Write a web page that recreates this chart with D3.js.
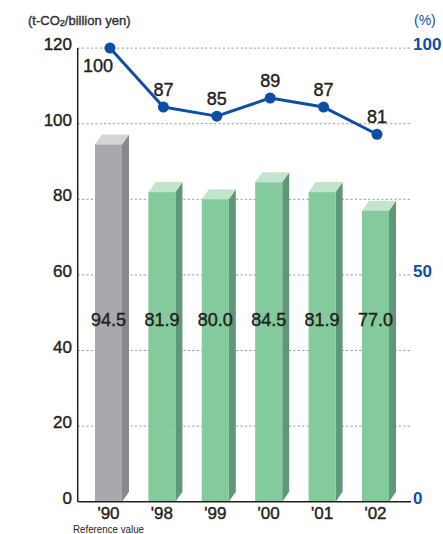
<!DOCTYPE html>
<html>
<head>
<meta charset="utf-8">
<script src="https://cdn.jsdelivr.net/npm/d3@7"></script>
<style>
  html, body { margin: 0; padding: 0; background: #fff; }
  svg { display: block; font-family: "Liberation Sans", Arial, sans-serif; }
  .heavy { stroke: currentColor; stroke-width: 0.4px; paint-order: stroke; }
</style>
</head>
<body>
<svg id="chart" width="443" height="534"></svg>
<script>
// CO2 emissions per unit of sales (t-CO2/billion yen) and index vs. 1990 (%)
const years = ["'90", "'98", "'99", "'00", "'01", "'02"];
const intensity = [94.5, 81.9, 80.0, 84.5, 81.9, 77.0];
const indexPct = [100, 87, 85, 89, 87, 81];
const leftTicks = [0, 20, 40, 60, 80, 100, 120];
const rightTicks = [0, 50, 100];

const svg = d3.select("#chart");

const y = d3.scaleLinear().domain([0, 120]).range([501.7, 48.1]);
const yPct = d3.scaleLinear().domain([0, 100]).range([501.7, 48.1]);
const x = d3.scaleBand().domain(years).range([81.8, 402.2]).paddingInner(0.494).paddingOuter(0.247);

const axisLeftX = 77.7, axisRightX = 411;
const depthX = 7, depthY = 10;
const blue = "#0d4ea6";
const ink = "#231f20";

// dashed gridlines
svg.append("g")
  .selectAll("line")
  .data(leftTicks.filter(d => d > 0))
  .join("line")
  .attr("x1", axisLeftX).attr("x2", axisRightX)
  .attr("y1", d => y(d)).attr("y2", d => y(d))
  .attr("stroke", "#9a9a9a").attr("stroke-width", 1)
  .attr("stroke-dasharray", "2.2,2.2");

// 3D bars
const palette = i => i === 0
  ? { front: "#a8a9ac", side: "#87888b", top: "#d3d4d6" }
  : { front: "#83ca9c", side: "#5f9877", top: "#c3e5cd" };

const bars = svg.append("g").selectAll("g")
  .data(intensity.map((v, i) => ({ v, i, yr: years[i] })))
  .join("g");

bars.append("polygon")
  .attr("fill", d => palette(d.i).side)
  .attr("points", d => {
    const x1 = x(d.yr) + x.bandwidth(), yt = y(d.v), y0 = y(0);
    return [[x1, yt], [x1 + depthX, yt - depthY], [x1 + depthX, y0 - depthY], [x1, y0]].join(" ");
  });
bars.append("polygon")
  .attr("fill", d => palette(d.i).top)
  .attr("points", d => {
    const x0 = x(d.yr), x1 = x0 + x.bandwidth(), yt = y(d.v);
    return [[x0, yt], [x0 + depthX, yt - depthY], [x1 + depthX, yt - depthY], [x1, yt]].join(" ");
  });
bars.append("rect")
  .attr("fill", d => palette(d.i).front)
  .attr("x", d => x(d.yr))
  .attr("y", d => y(d.v))
  .attr("width", x.bandwidth())
  .attr("height", d => y(0) - y(d.v));

// bar value labels
bars.append("text")
  .attr("class", "heavy")
  .attr("x", d => x(d.yr) + x.bandwidth() / 2)
  .attr("y", 325.5)
  .attr("text-anchor", "middle")
  .attr("font-size", 18)
  .attr("fill", ink).attr("color", ink)
  .text(d => d.v.toFixed(1));

// axes lines
svg.append("line")
  .attr("x1", axisLeftX).attr("x2", axisLeftX)
  .attr("y1", y(120)).attr("y2", y(0))
  .attr("stroke", ink).attr("stroke-width", 1.5);
svg.append("line")
  .attr("x1", axisLeftX).attr("x2", axisRightX)
  .attr("y1", y(0)).attr("y2", y(0))
  .attr("stroke", ink).attr("stroke-width", 1.5);

// left tick labels
svg.append("g").selectAll("text")
  .data(leftTicks)
  .join("text")
  .attr("class", "heavy")
  .attr("x", 72)
  .attr("y", d => y(d) + 2)
  .attr("text-anchor", "end")
  .attr("font-size", 17)
  .attr("fill", ink).attr("color", ink)
  .text(d => d);

// right tick labels
svg.append("g").selectAll("text")
  .data(rightTicks)
  .join("text")
  .attr("x", 413)
  .attr("y", d => yPct(d) + 2)
  .attr("font-size", 17)
  .attr("font-weight", "bold")
  .attr("fill", blue)
  .text(d => d);

// unit labels
const unit = svg.append("text")
  .attr("class", "heavy")
  .attr("x", 28).attr("y", 25)
  .attr("font-size", 13)
  .attr("fill", "#333").attr("color", "#333");
unit.append("tspan").text("(t-CO");
unit.append("tspan").attr("font-size", 9).attr("dy", 1).text("2");
unit.append("tspan").attr("dy", -1).text("/billion yen)");

svg.append("text")
  .attr("x", 414).attr("y", 25)
  .attr("font-size", 14)
  .attr("fill", blue)
  .text("(%)");

// x labels
svg.append("g").selectAll("text")
  .data(years)
  .join("text")
  .attr("class", "heavy")
  .attr("x", d => x(d) + x.bandwidth() / 2)
  .attr("y", 518.5)
  .attr("text-anchor", "middle")
  .attr("font-size", 17)
  .attr("fill", ink).attr("color", ink)
  .text(d => d);

svg.append("text")
  .attr("x", x(years[0]) + x.bandwidth() / 2)
  .attr("y", 533)
  .attr("text-anchor", "middle")
  .attr("font-size", 11)
  .attr("textLength", 71)
  .attr("lengthAdjust", "spacingAndGlyphs")
  .attr("fill", ink)
  .text("Reference value");

// index line
const px = (d, i) => x(years[i]) + x.bandwidth() / 2 + 1.5;
const line = d3.line().x((d, i) => px(d, i)).y(d => yPct(d));

svg.append("path")
  .datum(indexPct)
  .attr("d", line)
  .attr("fill", "none")
  .attr("stroke", blue)
  .attr("stroke-width", 3)
  .attr("stroke-linejoin", "round");

svg.append("g").selectAll("circle")
  .data(indexPct)
  .join("circle")
  .attr("cx", (d, i) => px(d, i))
  .attr("cy", d => yPct(d))
  .attr("r", 5.5)
  .attr("fill", blue);

svg.append("g").selectAll("text")
  .data(indexPct)
  .join("text")
  .attr("class", "heavy")
  .attr("x", (d, i) => i === 0 ? px(d, i) - 12 : px(d, i))
  .attr("y", (d, i) => i === 0 ? yPct(d) + 23.5 : yPct(d) - 11)
  .attr("text-anchor", "middle")
  .attr("font-size", 18)
  .attr("fill", ink).attr("color", ink)
  .text(d => d);
</script>
</body>
</html>
